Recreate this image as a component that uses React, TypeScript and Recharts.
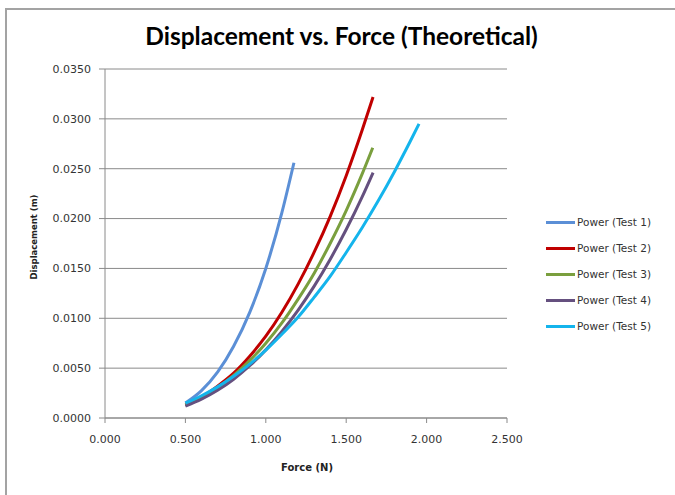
import { LineChart, Line, XAxis, YAxis, CartesianGrid, Legend } from 'recharts';

// force (N) sample points
const force1 = [0.5, 0.6, 0.7, 0.8, 0.9, 1.0, 1.1, 1.175];
const disp1 = [0.0015, 0.00275, 0.0046, 0.0072, 0.0106, 0.015, 0.0206, 0.0256];

const force2 = [0.5, 0.6, 0.7, 0.8, 0.9, 1.0, 1.1, 1.2, 1.3, 1.4, 1.5, 1.6, 1.667];
const disp2 = [0.0013, 0.0021, 0.0032, 0.0045, 0.0062, 0.0082, 0.0106, 0.0134, 0.0166, 0.0202, 0.0243, 0.0289, 0.0322];

const force3 = [0.5, 0.6, 0.7, 0.8, 0.9, 1.0, 1.1, 1.2, 1.3, 1.4, 1.5, 1.6, 1.665];
const disp3 = [0.0013, 0.00207, 0.00305, 0.00428, 0.00576, 0.0075, 0.00953, 0.0119, 0.0145, 0.0175, 0.0208, 0.0245, 0.0271];

const force4 = [0.5, 0.6, 0.7, 0.8, 0.9, 1.0, 1.1, 1.2, 1.3, 1.4, 1.5, 1.6, 1.667];
const disp4 = [0.0012, 0.00189, 0.00278, 0.00389, 0.00524, 0.00683, 0.00868, 0.0108, 0.0132, 0.0159, 0.0189, 0.0222, 0.0246];

const force5 = [0.5, 0.6, 0.7, 0.8, 0.9, 1.0, 1.1, 1.2, 1.3, 1.4, 1.5, 1.6, 1.7, 1.8, 1.9, 1.953];
const disp5 = [0.00149, 0.00223, 0.00312, 0.00418, 0.0054, 0.00681, 0.0084, 0.0101, 0.0121, 0.0142, 0.0166, 0.0191, 0.0218, 0.0247, 0.0278, 0.0295];

const seriesNames = ['Power (Test 1)', 'Power (Test 2)', 'Power (Test 3)', 'Power (Test 4)', 'Power (Test 5)'];
const seriesColors = ['#5B8FD6', '#C00000', '#7A9F3E', '#65507F', '#14B4EC'];

const xTicks = [0, 0.5, 1, 1.5, 2, 2.5];
const yTicks = [0, 0.005, 0.01, 0.015, 0.02, 0.025, 0.03, 0.035];

const toPoints = (xs: number[], ys: number[]) => xs.map((x, i) => ({ force: x, disp: ys[i] }));

const series = [
  toPoints(force1, disp1),
  toPoints(force2, disp2),
  toPoints(force3, disp3),
  toPoints(force4, disp4),
  toPoints(force5, disp5),
];

const TITLE_FONT = 'Lato, sans-serif';
const FONT = '"DejaVu Sans", sans-serif';

function LegendBox() {
  return (
    <div style={{ fontFamily: FONT, fontSize: 10.5, color: '#333' }}>
      {seriesNames.map((name, i) => (
        <div key={name} style={{ display: 'flex', alignItems: 'center', height: 26 }}>
          <div style={{ width: 29, height: 3, background: seriesColors[i], marginRight: 2 }} />
          <span>{name}</span>
        </div>
      ))}
    </div>
  );
}

export default function App() {
  return (
    <div style={{ position: 'absolute', left: 0, top: 0, width: 675, height: 495, background: '#fff' }}>
      <div
        style={{
          position: 'absolute', left: 5, top: 8, right: 0, bottom: 0,
          borderTop: '2px solid #a3a3a3', borderLeft: '2px solid #a3a3a3',
        }}
      />
      <div
        style={{
          position: 'absolute', left: 0, width: 683, top: 21, textAlign: 'center',
          fontFamily: TITLE_FONT, fontSize: 24.5, fontWeight: 700, color: '#000',
        }}
      >
        Displacement vs. Force (Theoretical)
      </div>
      <div
        style={{
          position: 'absolute', left: 34, top: 237, transform: 'translate(-50%, -50%) rotate(-90deg)',
          fontFamily: FONT, fontSize: 8.5, fontWeight: 700, color: '#222', whiteSpace: 'nowrap',
        }}
      >
        Displacement (m)
      </div>
      <div
        style={{
          position: 'absolute', left: 307, top: 467, transform: 'translate(-50%, -50%)',
          fontFamily: FONT, fontSize: 10, fontWeight: 700, color: '#222', whiteSpace: 'nowrap',
        }}
      >
        Force (N)
      </div>
      <LineChart
        width={675}
        height={495}
        margin={{ top: 69, right: 168, left: 45, bottom: 47 }}
        style={{ position: 'absolute', left: 0, top: 0 }}
      >
        <CartesianGrid vertical={false} stroke="#8a8a8a" strokeWidth={1} />
        <XAxis
          type="number"
          dataKey="force"
          domain={[0, 2.5]}
          ticks={xTicks}
          allowDataOverflow
          tickFormatter={(v: number) => v.toFixed(3)}
          tick={{ fill: '#333', fontSize: 11, fontFamily: FONT }}
          stroke="#8a8a8a"
          tickSize={5}
          tickMargin={12}
          height={30}
        />
        <YAxis
          type="number"
          dataKey="disp"
          domain={[0, 0.035]}
          ticks={yTicks}
          allowDataOverflow
          tickFormatter={(v: number) => v.toFixed(4)}
          tick={{ fill: '#333', fontSize: 11, fontFamily: FONT }}
          stroke="#8a8a8a"
          tickSize={6}
          tickMargin={8}
          width={60}
        />
        <Legend
          layout="vertical"
          align="center"
          verticalAlign="middle"
          content={() => <LegendBox />}
          wrapperStyle={{ position: 'absolute', left: 546, top: 209, width: 129 }}
        />
        {series.map((pts, i) => (
          <Line
            key={seriesNames[i]}
            data={pts}
            dataKey="disp"
            name={seriesNames[i]}
            type="monotone"
            stroke={seriesColors[i]}
            strokeWidth={3}
            dot={false}
            isAnimationActive={false}
            legendType="plainline"
          />
        ))}
      </LineChart>
    </div>
  );
}
